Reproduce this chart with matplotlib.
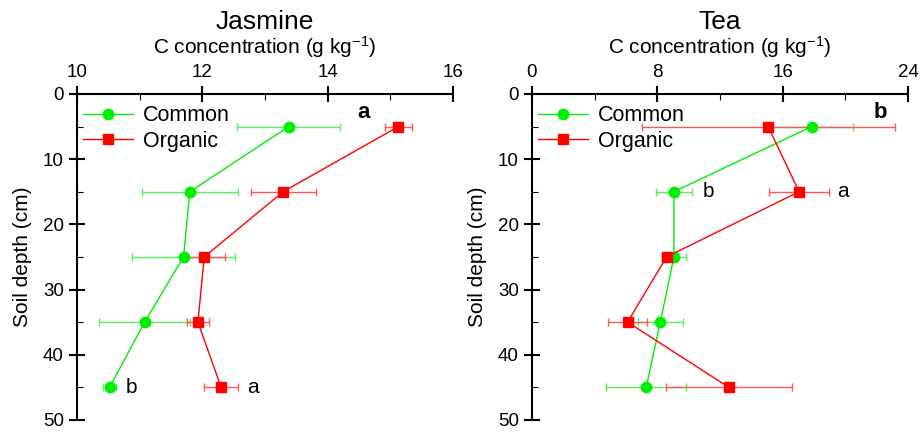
import matplotlib.pyplot as plt
from matplotlib.ticker import MultipleLocator

plt.rcParams["font.family"] = ["Liberation Sans", "DejaVu Sans"]
plt.rcParams["mathtext.default"] = "regular"

# Profundidades de muestreo (cm)
depth = [5, 15, 25, 35, 45]

# Jasmine: concentracion de C (g/kg) y error
jas_common = [13.38, 11.80, 11.70, 11.08, 10.52]
jas_common_err = [0.82, 0.77, 0.82, 0.73, 0.11]
jas_organic = [15.13, 13.29, 12.03, 11.93, 12.30]
jas_organic_err = [0.21, 0.52, 0.33, 0.17, 0.27]

# Tea: concentracion de C (g/kg) y error
tea_common = [17.86, 9.06, 9.06, 8.19, 7.29]
tea_common_err = [2.66, 1.15, 0.74, 1.45, 2.57]
tea_organic = [15.07, 17.05, 8.59, 6.10, 12.56]
tea_organic_err = [8.08, 1.91, 0.30, 1.26, 4.02]

GREEN = "#00ee00"
RED = "#ff0000"


def dibujar_panel(ax, common, common_err, organic, organic_err, xlim, xstep,
                  title, letra, letra_x):
    c = ax.errorbar(common, depth, xerr=common_err, color=GREEN, ecolor="#55ee55",
                    marker="o", markersize=7.5, linewidth=1, elinewidth=1, capsize=3,
                    zorder=3)
    o = ax.errorbar(organic, depth, xerr=organic_err, color=RED, ecolor="#ff5555",
                    marker="s", markersize=6.5, linewidth=1, elinewidth=1, capsize=3,
                    zorder=3)

    ax.set_xlim(*xlim)
    ax.set_ylim(50, 0)
    ax.xaxis.set_major_locator(MultipleLocator(xstep))
    ax.xaxis.set_minor_locator(MultipleLocator(xstep / 2))
    ax.yaxis.set_major_locator(MultipleLocator(10))
    ax.yaxis.set_minor_locator(MultipleLocator(5))
    ax.xaxis.tick_top()
    ax.xaxis.set_label_position("top")

    for lado in ["right", "bottom"]:
        ax.spines[lado].set_visible(False)
    ax.spines["left"].set_linewidth(1.5)
    ax.spines["top"].set_linewidth(1.5)

    ax.tick_params(axis="both", which="major", direction="inout", length=12,
                   width=1.5, labelsize=13.5)
    ax.tick_params(axis="both", which="minor", direction="in", length=4, width=0.8)

    ax.set_xlabel("C concentration (g kg$^{-1}$)", fontsize=15, labelpad=7)
    ax.set_ylabel("Soil depth (cm)", fontsize=15, labelpad=8)
    ax.set_title(title, fontsize=19, pad=3)

    # La leyenda usa solo la linea con marcador, sin barras de error
    ax.legend([c.lines[0], o.lines[0]], ["Common", "Organic"], loc="upper left",
              bbox_to_anchor=(0.0, 0.985), frameon=False, fontsize=15.5,
              handlelength=2.3, borderaxespad=0.0, borderpad=0.3,
              handletextpad=0.45, labelspacing=0.2)
    ax.text(letra_x, 0.942, letra, transform=ax.transAxes, fontsize=16,
            fontweight="bold", ha="center", va="center")


fig = plt.figure(figsize=(9.22, 4.32), dpi=100)
ax1 = fig.add_axes([0.0835, 0.028, 0.4078, 0.7546])
ax2 = fig.add_axes([0.577, 0.028, 0.4078, 0.7546])

dibujar_panel(ax1, jas_common, jas_common_err, jas_organic, jas_organic_err,
              (10, 16), 2, "Jasmine", "a", 0.763)
dibujar_panel(ax2, tea_common, tea_common_err, tea_organic, tea_organic_err,
              (0, 24), 8, "Tea", "b", 0.926)

# Letras de significancia
ax1.text(jas_common[4] + jas_common_err[4] + 0.15, depth[4], "b", fontsize=15, va="center")
ax1.text(jas_organic[4] + jas_organic_err[4] + 0.15, depth[4], "a", fontsize=15, va="center")
ax2.text(tea_common[1] + tea_common_err[1] + 0.7, depth[1], "b", fontsize=15, va="center")
ax2.text(tea_organic[1] + tea_organic_err[1] + 0.5, depth[1], "a", fontsize=15, va="center")

fig.savefig("out.png", dpi=100)
